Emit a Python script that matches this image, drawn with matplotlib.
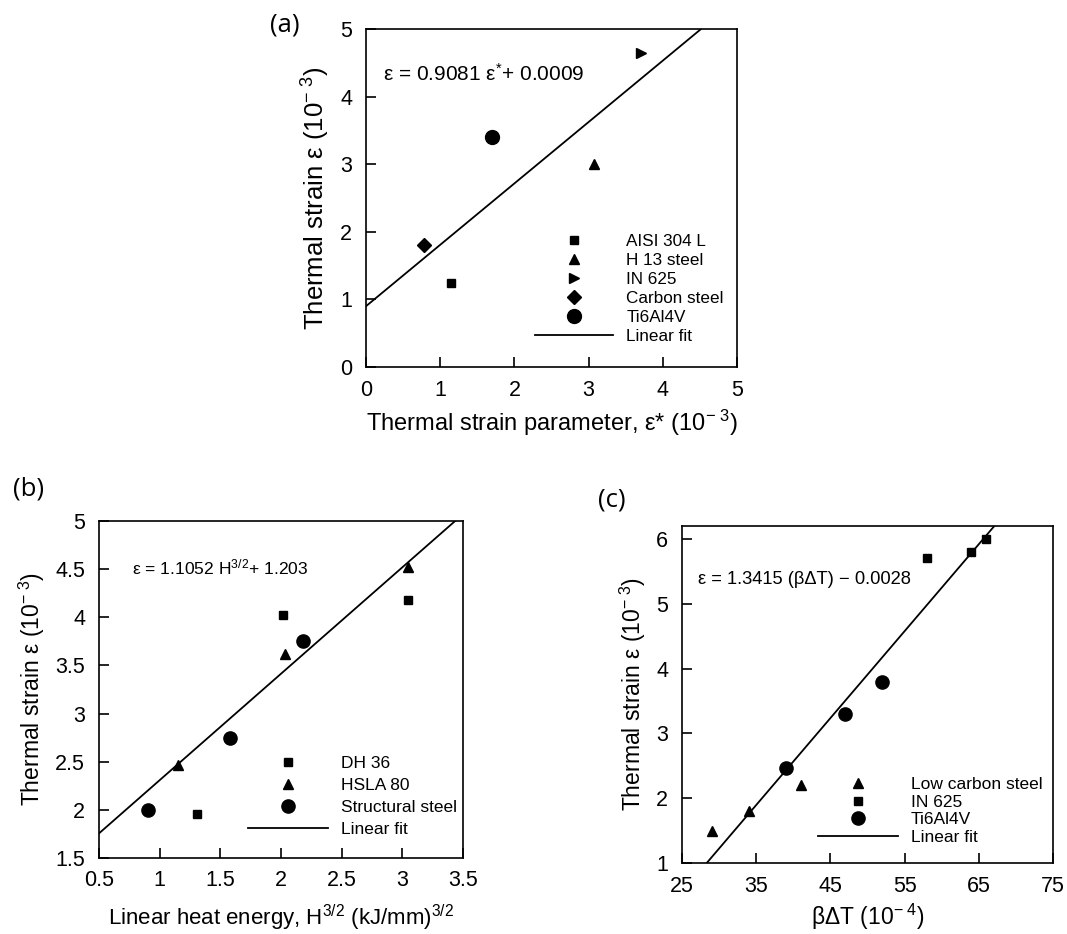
import matplotlib
matplotlib.use("Agg")
import numpy as np
import matplotlib.pyplot as plt

plt.rcParams["font.family"] = ["Liberation Sans", "DejaVu Sans"]
plt.rcParams["mathtext.fontset"] = "custom"
plt.rcParams["mathtext.rm"] = "Liberation Sans"
plt.rcParams["mathtext.it"] = "Liberation Sans"

# (a) thermal strain vs thermal strain parameter
a_names = ["AISI 304 L", "H 13 steel", "IN 625", "Carbon steel", "Ti6Al4V"]
a_markers = ["s", "^", ">", "D", "o"]
a_sizes = [6, 7, 7, 7, 10]
a_x = [1.15, 3.07, 3.70, 0.78, 1.70]
a_y = [1.25, 3.00, 4.65, 1.80, 3.40]
a_slope, a_icpt = 0.9081, 0.9

# (b) thermal strain vs linear heat energy
b_names = ["DH 36", "HSLA 80", "Structural steel"]
b_markers = ["s", "^", "o"]
b_sizes = [6, 7, 9.5]
b_x = [[2.02, 3.05, 1.31], [1.15, 2.03, 3.05], [0.90, 1.58, 2.18]]
b_y = [[4.02, 4.18, 1.96], [2.47, 3.62, 4.52], [2.00, 2.75, 3.75]]
b_slope, b_icpt = 1.1052, 1.203

# (c) thermal strain vs beta*dT
c_names = ["Low carbon steel", "IN 625", "Ti6Al4V"]
c_markers = ["^", "s", "o"]
c_sizes = [7, 6, 9.5]
c_x = [[29, 34, 41], [58, 64, 66], [39, 47, 52]]
c_y = [[1.50, 1.80, 2.20], [5.70, 5.80, 6.00], [2.47, 3.30, 3.80]]
c_slope, c_icpt = 0.13415, -2.8

ylab = "Thermal strain ε (10$^{\\mathregular{-\\ 3}}$)"
panel_font = ["Open Sans", "DejaVu Sans"]

fig = plt.figure(figsize=(10.67, 9.34), dpi=100)
ax_a = fig.add_axes([0.343, 0.607, 0.3477, 0.3619])
ax_b = fig.add_axes([0.0928, 0.0814, 0.3411, 0.3608])
ax_c = fig.add_axes([0.6392, 0.076, 0.3477, 0.3608])


def style(ax):
    for s in ax.spines.values():
        s.set_linewidth(1.2)
    ax.tick_params(direction="in", length=7, width=1.2, labelsize=15.5,
                   top=False, right=False)
    ax.tick_params(axis="x", pad=9)
    ax.tick_params(axis="y", pad=10)


def add_legend(ax, x, y, spacing, size=12.5):
    ax.legend(loc="upper left", bbox_to_anchor=(x, y), frameon=False,
              fontsize=size, handlelength=4.6, handletextpad=0.75,
              labelspacing=spacing, borderpad=0, borderaxespad=0,
              numpoints=1)


# panel (a)
for name, m, ms, x, y in zip(a_names, a_markers, a_sizes, a_x, a_y):
    ax_a.plot([x], [y], m, color="black", ms=ms, label=name, linestyle="none")
xx = np.array([0, 5])
ax_a.plot(xx, a_slope * xx + a_icpt, color="black", lw=1.3, label="Linear fit")
ax_a.set_xlim(0, 5)
ax_a.set_ylim(0, 5)
ax_a.set_xticks(range(6))
ax_a.set_yticks(range(6))
style(ax_a)
ax_a.set_xlabel("Thermal strain parameter, ε* (10$^{\\mathregular{-\\ 3}}$)", fontsize=17, labelpad=5)
ax_a.set_ylabel(ylab, fontsize=18.5, labelpad=6)
ax_a.text(0.046, 0.867, "ε = 0.9081 ε$^{\\mathregular{*}}$+ 0.0009", transform=ax_a.transAxes,
          fontsize=15, va="center", ha="left")
add_legend(ax_a, 0.455, 0.395, 0.24, 12.3)
fig.text(0.253, 0.973, "(a)", fontsize=18.5, family=panel_font, va="center")

# panel (b)
for name, m, ms, x, y in zip(b_names, b_markers, b_sizes, b_x, b_y):
    ax_b.plot(x, y, m, color="black", ms=ms, label=name, linestyle="none")
xx = np.array([0.5, 3.5])
ax_b.plot(xx, b_slope * xx + b_icpt, color="black", lw=1.3, label="Linear fit")
ax_b.set_xlim(0.5, 3.5)
ax_b.set_ylim(1.5, 5)
ax_b.set_xticks(np.arange(0.5, 3.51, 0.5))
ax_b.set_yticks(np.arange(1.5, 5.01, 0.5))
ax_b.xaxis.set_major_formatter(plt.FuncFormatter(lambda v, p: f"{v:g}"))
ax_b.yaxis.set_major_formatter(plt.FuncFormatter(lambda v, p: f"{v:g}"))
style(ax_b)
ax_b.set_xlabel("Linear heat energy, H$^{\\mathregular{3/2}}$ (kJ/mm)$^{\\mathregular{3/2}}$",
                fontsize=16, labelpad=8)
ax_b.set_ylabel(ylab, fontsize=16.5, labelpad=6)
ax_b.text(0.091, 0.861, "ε = 1.1052 H$^{\\mathregular{3/2}}$+ 1.203", transform=ax_b.transAxes,
          fontsize=12.6, va="center", ha="left")
add_legend(ax_b, 0.409, 0.303, 0.4)
fig.text(0.012, 0.476, "(b)", fontsize=18.5, family=panel_font, va="center")

# panel (c)
for name, m, ms, x, y in zip(c_names, c_markers, c_sizes, c_x, c_y):
    ax_c.plot(x, y, m, color="black", ms=ms, label=name, linestyle="none")
xx = np.array([25, 75])
ax_c.plot(xx, c_slope * xx + c_icpt, color="black", lw=1.3, label="Linear fit")
ax_c.set_xlim(25, 75)
ax_c.set_ylim(1, 6.2)
ax_c.set_xticks(range(25, 76, 10))
ax_c.set_yticks(range(1, 7))
style(ax_c)
ax_c.set_xlabel("βΔT (10$^{\\mathregular{-\\ 4}}$)", fontsize=16.5, labelpad=4)
ax_c.set_ylabel(ylab, fontsize=16.5, labelpad=6)
ax_c.text(0.043, 0.84, "ε = 1.3415 (βΔT) − 0.0028", transform=ax_c.transAxes,
          fontsize=13.2, va="center", ha="left")
add_legend(ax_c, 0.367, 0.256, 0.15)
fig.text(0.56, 0.465, "(c)", fontsize=18.5, family=panel_font, va="center")

fig.savefig("out.png", dpi=100)
